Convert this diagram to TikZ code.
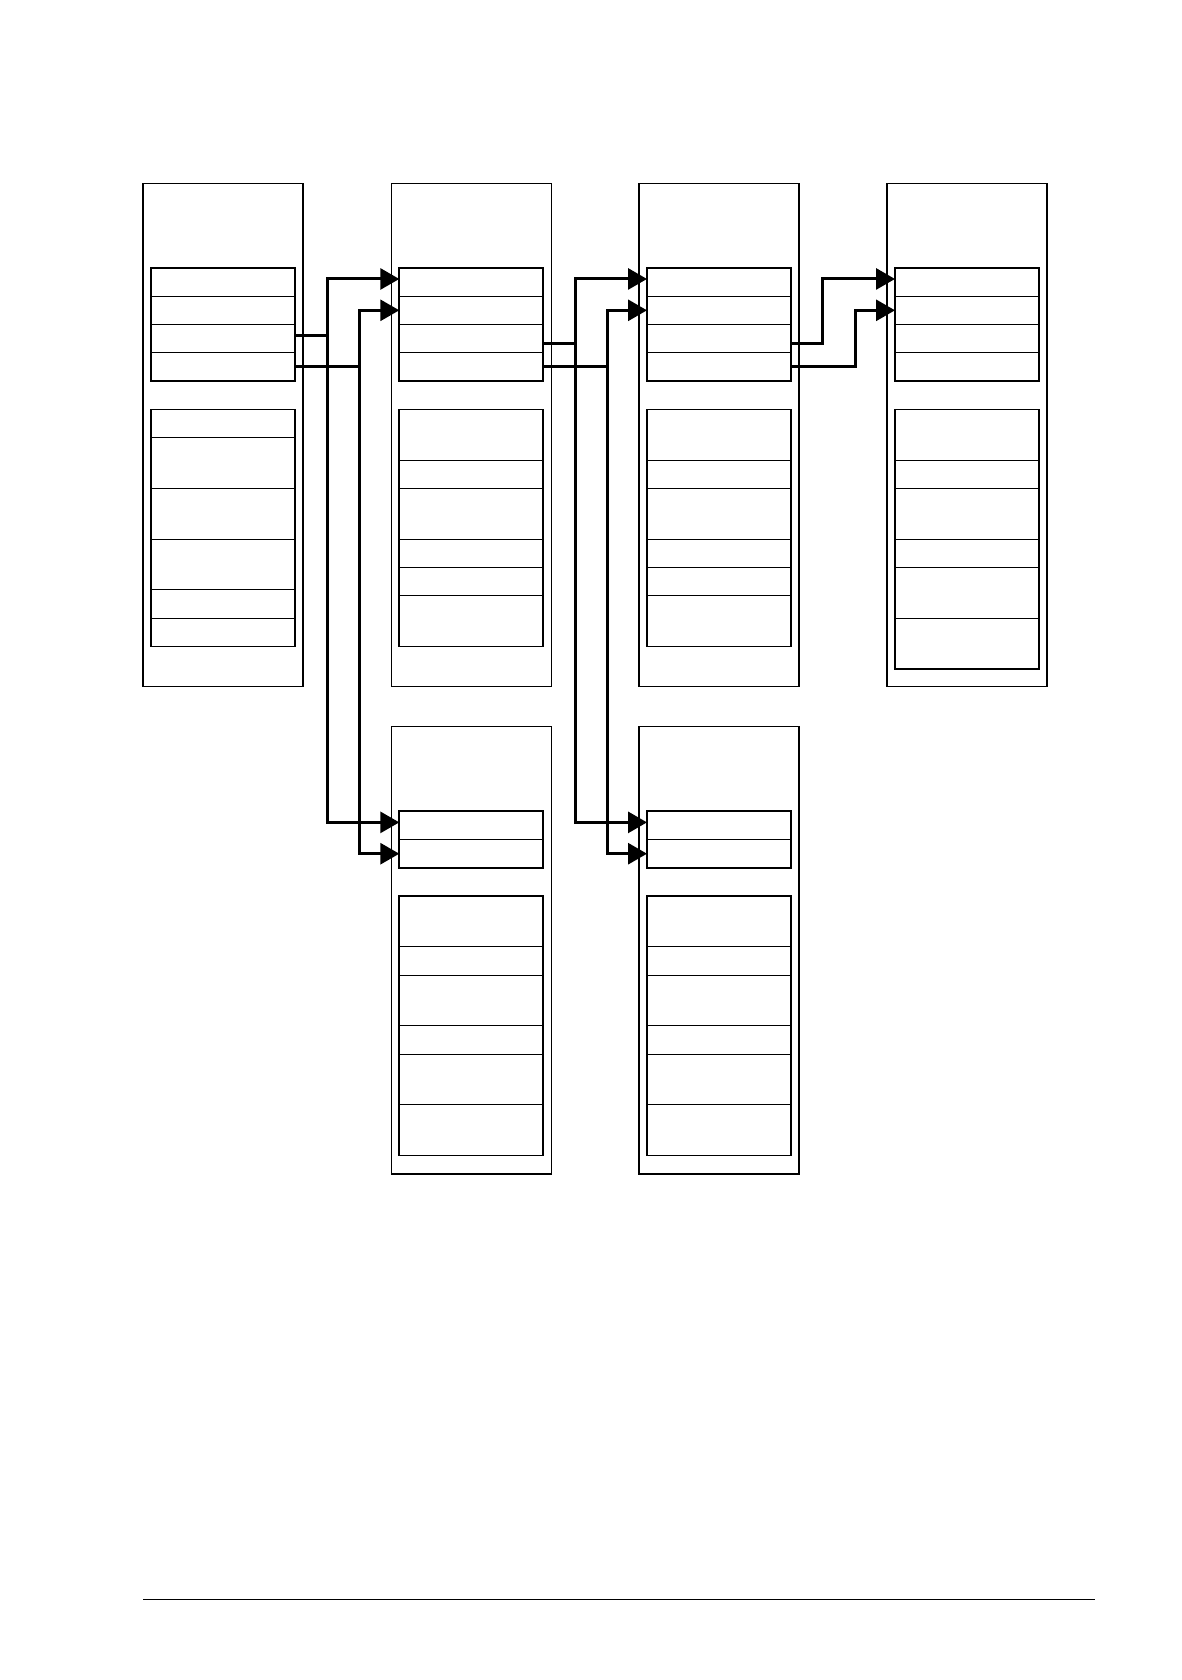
\documentclass[tikz,border=0pt]{standalone}
\usetikzlibrary{arrows.meta,positioning}
\begin{document}
\begin{tikzpicture}[x=0.5pt,y=-0.5pt]
    \tikzset{frame/.style={draw,line width=0.7pt,minimum width=80pt,anchor=north west,inner sep=0pt,outer sep=0pt},
    cell/.style={draw,line width=0.55pt,minimum width=72pt,anchor=north west,inner sep=0pt,outer sep=0pt},
    group/.style={draw,line width=0.9pt},
    link/.style={line width=1.5pt,-{Triangle[length=9.5pt,width=10.5pt]}}}
    \useasboundingbox (0,0) rectangle (1182,1680);
    % records: number/x/y/height/upper rows/heights of the lower rows
    \foreach \b/\x/\y/\h/\n/\rows in {
        1/143/183.3/251.7pt/4/{14.17,25.33,25.33,25.33,14.17,14.17},
        2/391.3/183.3/251.7pt/4/{25.33,14.17,25.33,14.17,14.17,25.33},
        3/639/183.3/251.7pt/4/{25.33,14.17,25.33,14.17,14.17,25.33},
        4/887/183.3/251.7pt/4/{25.33,14.17,25.33,14.17,25.33,25.33},
        5/391.3/726.7/223.65pt/2/{25.33,14.17,25.33,14.17,25.33,25.33},
        6/639/726.7/223.65pt/2/{25.33,14.17,25.33,14.17,25.33,25.33}} {
        \node[frame,minimum height=\h] (b\b) at (\x,\y) {};
        \node[cell,minimum height=14.17pt] (b\b-1) at (\x+8,\y+84.5) {};
        \foreach \i [evaluate=\i as \p using int(\i-1)] in {2,...,\n}
            \node[cell,minimum height=14.17pt,below=0pt of b\b-\p] (b\b-\i) {};
        \foreach \hh [count=\k] in \rows {
            \pgfmathtruncatemacro\i{\n+\k}
            \pgfmathtruncatemacro\p{\i-1}
            \pgfmathsetlengthmacro\g{\k==1 ? 14.17pt : 0pt}
            \node[cell,minimum height=\hh pt,below=\g of b\b-\p] (b\b-\i) {};
        }
        \pgfmathtruncatemacro\first{\n+1}
        \pgfmathtruncatemacro\last{\n+6}
        \draw[group] (b\b-1.north west) rectangle (b\b-\n.south east);
        \draw[group] (b\b-\first.north west) rectangle (b\b-\last.south east);
    }
    % links between the records
    \coordinate (j1) at (327.3,0);
    \coordinate (j2) at (359.3,0);
    \coordinate (j3) at (575,0);
    \coordinate (j4) at (607.3,0);
    \coordinate (j5) at (822.7,0);
    \coordinate (j6) at (855,0);
    \coordinate (o1) at ([yshift=1.5pt]b1-3.east);
    \coordinate (o2) at (b1-4.east);
    \coordinate (o3) at ([yshift=-2.5pt]b2-3.east);
    \coordinate (o4) at (b2-4.east);
    \coordinate (o5) at ([yshift=-2.5pt]b3-3.east);
    \coordinate (o6) at (b3-4.east);
    \draw[link] (o1) -- (o1 -| j1) |- ([yshift=1.5pt]b2-1.west);
    \draw[link] (o1 -| j1) |- ([yshift=1.5pt]b5-1.west);
    \draw[link] (o2) -- (o2 -| j2) |- (b2-2.west);
    \draw[link] (o2 -| j2) |- (b5-2.west);
    \draw[link] (o3) -- (o3 -| j3) |- ([yshift=1.5pt]b3-1.west);
    \draw[link] (o3 -| j3) |- ([yshift=1.5pt]b6-1.west);
    \draw[link] (o4) -- (o4 -| j4) |- (b3-2.west);
    \draw[link] (o4 -| j4) |- (b6-2.west);
    \draw[link] (o5) -- (o5 -| j5) |- ([yshift=1.5pt]b4-1.west);
    \draw[link] (o6) -- (o6 -| j6) |- (b4-2.west);
    % foot rule
    \draw[line width=0.7pt] (143,1599.3) -- (1095,1599.3);
\end{tikzpicture}
\end{document}
